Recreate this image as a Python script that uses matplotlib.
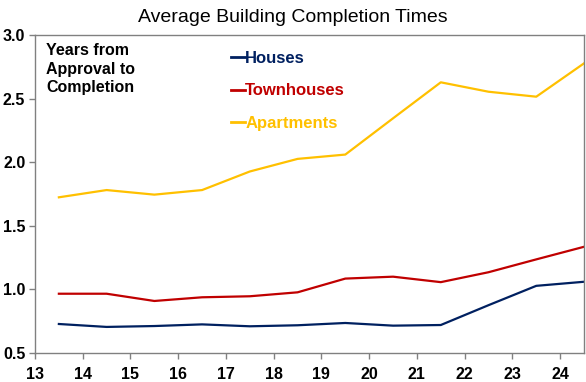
import matplotlib.pyplot as plt

plt.rcParams['font.family'] = ['Liberation Sans', 'DejaVu Sans']
plt.rcParams['font.weight'] = 'bold'

years = [13.5, 14.5, 15.5, 16.5, 17.5, 18.5, 19.5, 20.5, 21.5, 22.5, 23.5, 24.5]
houses = [0.728, 0.705, 0.712, 0.725, 0.710, 0.718, 0.736, 0.715, 0.720, 0.876, 1.028, 1.060]
townhouses = [0.966, 0.966, 0.909, 0.938, 0.946, 0.977, 1.085, 1.100, 1.057, 1.135, 1.236, 1.335]
apartments = [1.724, 1.781, 1.745, 1.781, 1.927, 2.026, 2.060, 2.345, 2.628, 2.554, 2.515, 2.777]
tick_years = list(range(13, 25))
y_ticks = [0.5, 1.0, 1.5, 2.0, 2.5, 3.0]

fig = plt.figure(figsize=(5.86, 3.82), dpi=100)
ax = fig.add_axes([35 / 586, 1 - 353 / 382, 549 / 586, 318 / 382])

ax.plot(years, houses, color='#002060', lw=1.6, label='Houses')
ax.plot(years, townhouses, color='#C00000', lw=1.6, label='Townhouses')
ax.plot(years, apartments, color='#FFC000', lw=1.6, label='Apartments')

ax.set_xlim(13, 24.5)
ax.set_ylim(0.5, 3.0)
ax.set_xticks(tick_years)
ax.set_xticklabels([str(t) for t in tick_years])
ax.set_yticks(y_ticks)
ax.set_yticklabels([f'{v:.1f}' for v in y_ticks])

for s in ax.spines.values():
    s.set_color('#808080')
    s.set_linewidth(1.0)
ax.tick_params(axis='both', direction='out', length=4, width=1.0, color='#808080',
               labelsize=11.5)
ax.tick_params(axis='x', pad=6)
ax.tick_params(axis='y', pad=3)
plt.setp(ax.get_xticklabels() + ax.get_yticklabels(), fontweight='bold')

leg = ax.legend(loc='upper left', bbox_to_anchor=(0.33, 0.997), frameon=False,
                handlelength=0.8, handletextpad=0.05, labelspacing=1.05,
                labelcolor='linecolor', prop={'weight': 'bold', 'size': 12})
for h in leg.get_lines():
    h.set_linewidth(2)

ax.text(0.02, 0.975, 'Years from\nApproval to\nCompletion', transform=ax.transAxes,
        ha='left', va='top', fontsize=11.5, fontweight='bold', linespacing=1.3)

fig.text(0.5, 0.953, 'Average Building Completion Times', ha='center', va='center',
         fontsize=14, fontweight='normal')

fig.savefig('out.png', dpi=100)
